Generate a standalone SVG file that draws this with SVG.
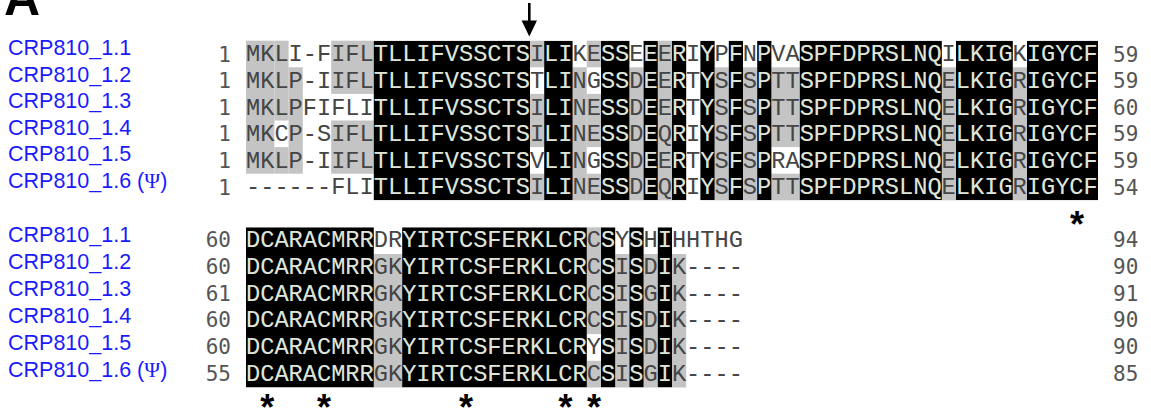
<svg xmlns="http://www.w3.org/2000/svg" xmlns:xlink="http://www.w3.org/1999/xlink" width="1151" height="412" viewBox="0 0 1151 412">
<style>
.lab{font-family:"Liberation Sans",Arial,sans-serif;font-size:21.5px;fill:#1a1aff}
.psi{font-family:"Liberation Serif","Times New Roman",serif}
.seq{font-family:"Liberation Mono","Courier New",monospace;font-size:23.66px}
.num{font-family:"DejaVu Sans Mono",monospace;font-size:21px;fill:#555}
.gr{fill:#c4c4c4}
.star{font-family:"Liberation Sans",Arial,sans-serif;font-weight:bold;font-size:36px;fill:#000;text-anchor:middle}
</style>
<defs>
<clipPath id="k1">
<rect x="373.8" y="40.7" width="156.2" height="159.6"/>
<rect x="544.2" y="40.7" width="28.4" height="159.6"/>
<rect x="601" y="40.7" width="28.4" height="159.6"/>
<rect x="643.6" y="40.7" width="14.2" height="159.6"/>
<rect x="672" y="40.7" width="14.2" height="159.6"/>
<rect x="700.4" y="40.7" width="14.2" height="159.6"/>
<rect x="728.8" y="40.7" width="14.2" height="159.6"/>
<rect x="757.2" y="40.7" width="14.2" height="159.6"/>
<rect x="799.8" y="40.7" width="142" height="159.6"/>
<rect x="956" y="40.7" width="56.8" height="159.6"/>
<rect x="1027" y="40.7" width="71" height="159.6"/>
</clipPath>
<clipPath id="k2">
<rect x="246" y="227.3" width="127.8" height="160.2"/>
<rect x="402.2" y="227.3" width="184.6" height="160.2"/>
<rect x="601" y="227.3" width="14.2" height="160.2"/>
<rect x="629.4" y="227.3" width="14.2" height="160.2"/>
<rect x="657.8" y="227.3" width="14.2" height="160.2"/>
</clipPath>
<g id="seq1" class="seq">
<text x="246" y="61.3">MKLI-FIFLTLLIFVSSCTSILIKESSEEERIYPFNPVASPFDPRSLNQILKIGKIGYCF</text>
<text x="246" y="87.9">MKLP-IIFLTLLIFVSSCTSTLINGSSDEERTYSFSPTTSPFDPRSLNQELKIGRIGYCF</text>
<text x="246" y="114.5">MKLPFIFLITLLIFVSSCTSILINESSDEERTYSFSPTTSPFDPRSLNQELKIGRIGYCF</text>
<text x="246" y="141.1">MKCP-SIFLTLLIFVSSCTSILINESSDEQRIYSFSPTTSPFDPRSLNQELKIGRIGYCF</text>
<text x="246" y="167.7">MKLP-IIFLTLLIFVSSCTSVLINGSSDEERTYSFSPRASPFDPRSLNQELKIGRIGYCF</text>
<text x="246" y="194.3">------FLITLLIFVSSCTSILINESSDEQRIYSFSPTTSPFDPRSLNQELKIGRIGYCF</text>
</g>
<g id="seq2" class="seq">
<text x="246" y="247.2">DCARACMRRDRYIRTCSFERKLCRCSYSHIHHTHG</text>
<text x="246" y="273.9">DCARACMRRGKYIRTCSFERKLCRCSISDIK----</text>
<text x="246" y="300.6">DCARACMRRGKYIRTCSFERKLCRCSISGIK----</text>
<text x="246" y="327.3">DCARACMRRGKYIRTCSFERKLCRCSISDIK----</text>
<text x="246" y="354">DCARACMRRGKYIRTCSFERKLCRYSISDIK----</text>
<text x="246" y="380.7">DCARACMRRGKYIRTCSFERKLCRCSISGIK----</text>
</g>
</defs>
<rect width="1151" height="412" fill="#fff"/>

<g id="panel-label">
<text x="4" y="15" style="font-family:'Liberation Sans',Arial,sans-serif;font-weight:bold;font-size:50px;fill:#000">A</text>
</g>

<g id="connectors">
<line x1="529.3" y1="3" x2="529.3" y2="23" stroke="#000" stroke-width="2.6"/>
<polygon points="521.6,20.5 537,20.5 529.3,36.5" fill="#000"/>
</g>

<g id="block1-shading">
<rect class="gr" x="246" y="40.7" width="28.4" height="133"/>
<rect class="gr" x="274.4" y="40.7" width="14.2" height="79.8"/>
<rect class="gr" x="274.4" y="147.1" width="14.2" height="26.6"/>
<rect class="gr" x="288.6" y="67.3" width="14.2" height="106.4"/>
<rect class="gr" x="331.2" y="40.7" width="42.6" height="53.2"/>
<rect class="gr" x="331.2" y="120.5" width="42.6" height="53.2"/>
<rect class="gr" x="530" y="40.7" width="14.2" height="26.6"/>
<rect class="gr" x="530" y="93.9" width="14.2" height="53.2"/>
<rect class="gr" x="530" y="173.7" width="14.2" height="26.6"/>
<rect class="gr" x="572.6" y="67.3" width="14.2" height="133"/>
<rect class="gr" x="586.8" y="40.7" width="14.2" height="26.6"/>
<rect class="gr" x="586.8" y="93.9" width="14.2" height="53.2"/>
<rect class="gr" x="586.8" y="173.7" width="14.2" height="26.6"/>
<rect class="gr" x="629.4" y="67.3" width="14.2" height="133"/>
<rect class="gr" x="657.8" y="40.7" width="14.2" height="159.6"/>
<rect class="gr" x="714.6" y="67.3" width="14.2" height="133"/>
<rect class="gr" x="743" y="67.3" width="14.2" height="133"/>
<rect class="gr" x="771.4" y="67.3" width="28.4" height="79.8"/>
<rect class="gr" x="771.4" y="173.7" width="28.4" height="26.6"/>
<rect class="gr" x="941.8" y="67.3" width="14.2" height="133"/>
<rect class="gr" x="1012.8" y="67.3" width="14.2" height="133"/>
<rect x="246" y="40.7" width="852" height="159.6" fill="#000" clip-path="url(#k1)"/>
</g>

<g id="block2-shading">
<rect class="gr" x="373.8" y="254" width="28.4" height="133.5"/>
<rect class="gr" x="586.8" y="227.3" width="14.2" height="106.8"/>
<rect class="gr" x="586.8" y="360.8" width="14.2" height="26.7"/>
<rect class="gr" x="615.2" y="254" width="14.2" height="133.5"/>
<rect class="gr" x="643.6" y="254" width="14.2" height="133.5"/>
<rect class="gr" x="672" y="254" width="14.2" height="133.5"/>
<rect x="246" y="227.3" width="497" height="160.2" fill="#000" clip-path="url(#k2)"/>
</g>

<g id="block1-sequences">
<use xlink:href="#seq1" href="#seq1" fill="#454545"/>
<use xlink:href="#seq1" href="#seq1" fill="#dfe4d8" clip-path="url(#k1)"/>
</g>
<g id="block2-sequences">
<use xlink:href="#seq2" href="#seq2" fill="#454545"/>
<use xlink:href="#seq2" href="#seq2" fill="#dfe4d8" clip-path="url(#k2)"/>
</g>

<g id="block1-numbers" class="num">
<text x="231" y="61.5" text-anchor="end">1</text>
<text x="231" y="88.1" text-anchor="end">1</text>
<text x="231" y="114.7" text-anchor="end">1</text>
<text x="231" y="141.3" text-anchor="end">1</text>
<text x="231" y="167.9" text-anchor="end">1</text>
<text x="231" y="194.5" text-anchor="end">1</text>
<text x="1113" y="61.5">59</text>
<text x="1113" y="88.1">59</text>
<text x="1113" y="114.7">60</text>
<text x="1113" y="141.3">59</text>
<text x="1113" y="167.9">59</text>
<text x="1113" y="194.5">54</text>
</g>
<g id="block2-numbers" class="num">
<text x="231" y="247.2" text-anchor="end">60</text>
<text x="231" y="273.9" text-anchor="end">60</text>
<text x="231" y="300.6" text-anchor="end">61</text>
<text x="231" y="327.3" text-anchor="end">60</text>
<text x="231" y="354" text-anchor="end">60</text>
<text x="231" y="380.7" text-anchor="end">55</text>
<text x="1113" y="247.2">94</text>
<text x="1113" y="273.9">90</text>
<text x="1113" y="300.6">91</text>
<text x="1113" y="327.3">90</text>
<text x="1113" y="354">90</text>
<text x="1113" y="380.7">85</text>
</g>

<g id="labels-block1" class="lab">
<text x="8" y="55">CRP810_1.1</text>
<text x="8" y="81.5">CRP810_1.2</text>
<text x="8" y="108">CRP810_1.3</text>
<text x="8" y="134.5">CRP810_1.4</text>
<text x="8" y="161">CRP810_1.5</text>
<text x="8" y="187.5">CRP810_1.6 (<tspan class="psi">Ψ</tspan>)</text>
</g>
<g id="labels-block2" class="lab">
<text x="8" y="241.7">CRP810_1.1</text>
<text x="8" y="268.7">CRP810_1.2</text>
<text x="8" y="295.7">CRP810_1.3</text>
<text x="8" y="322.7">CRP810_1.4</text>
<text x="8" y="349.7">CRP810_1.5</text>
<text x="8" y="376.7">CRP810_1.6 (<tspan class="psi">Ψ</tspan>)</text>
</g>

<g id="stars">
<text class="star" x="1077" y="237">*</text>
<text class="star" x="267.3" y="420">*</text>
<text class="star" x="324.1" y="420">*</text>
<text class="star" x="466.1" y="420">*</text>
<text class="star" x="565.5" y="420">*</text>
<text class="star" x="594" y="420">*</text>
</g>
</svg>
